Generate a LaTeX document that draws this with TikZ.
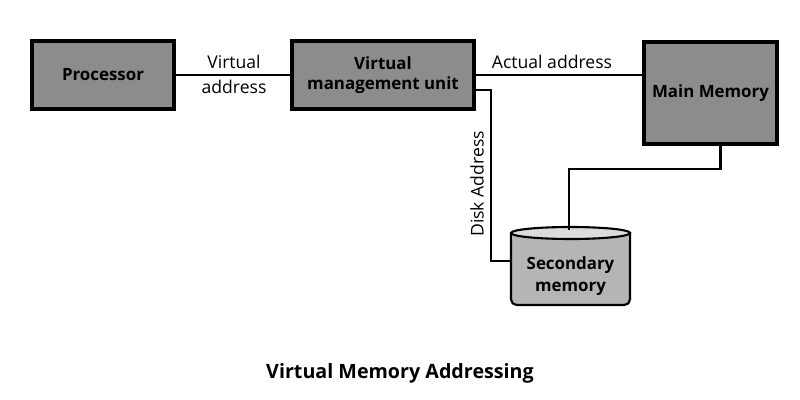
\documentclass[tikz,border=0pt]{standalone}
\usepackage{fontspec}
\setmainfont{Open Sans}
\usetikzlibrary{calc}
\definecolor{boxgray}{HTML}{8C8C8C}
\definecolor{cylbody}{HTML}{B5B5B5}
\definecolor{cyltop}{HTML}{DCDCDC}
\tikzset{
  unitbox/.style={draw=black, line width=2.2pt, fill=boxgray, font=\bfseries\fontsize{12}{14.5}\selectfont, align=center, inner sep=0pt},
  wire/.style={line width=1.5pt, draw=black},
  lbl/.style={font=\fontsize{12.5}{15}\selectfont, align=center, inner sep=0pt},
}
\begin{document}
\begin{tikzpicture}[x=0.025cm,y=-0.025cm]
\fill[white] (0,0) rectangle (800,400);
\useasboundingbox (0,0) rectangle (800,400);
\node[unitbox, minimum width=3.55cm, minimum height=1.7cm] (proc) at (103,75) {Processor};
\node[unitbox, minimum width=4.55cm, minimum height=1.7cm] (vmu) at (383,75) {Virtual\\management unit};
\node[unitbox, minimum width=3.325cm, minimum height=2.55cm] (mm) at (710.5,93) {};
\node[font=\bfseries\fontsize{12}{14.5}\selectfont] at (710.5,93) {Main Memory};
% cylinder
\draw[line width=1.5pt, fill=cylbody, rounded corners=4pt] (511,233) -- (511,305) -- (630,305) -- (630,233);
\fill[cylbody] (511,233) rectangle (630,240);
\draw[line width=1.5pt, fill=cyltop] (570.5,233) ellipse [x radius=59.5, y radius=6];
\draw[line width=1.5pt] (511,233) -- (511,250) (630,233) -- (630,250);
\node[font=\bfseries\fontsize{12}{16}\selectfont, align=center, minimum width=2.975cm, minimum height=1.5cm, inner sep=0pt] (sec) at (570.5,276) {Secondary\\memory};
\coordinate (sectop) at (569,230);
% connectors
\draw[wire] (proc.east) -- (vmu.west);
\node[lbl] at (234,62) {Virtual};
\node[lbl] at (234,87) {address};
\draw[wire] (vmu.east) -- (mm.west |- vmu.east);
\node[lbl] at (552,62) {Actual address};
\draw[wire] ($(vmu.east)+(0,15)$) -- ++(15,0) |- ($(sec.west)+(0,-15)$);
\node[lbl, rotate=90] at (477,184) {Disk Address};
\draw[wire] ($(mm.south)+(10,0)$) -- ++(0,23) -| (sectop);
\node[font=\bfseries\fontsize{14}{16}\selectfont] at (400,373) {Virtual Memory Addressing};
\end{tikzpicture}
\end{document}
